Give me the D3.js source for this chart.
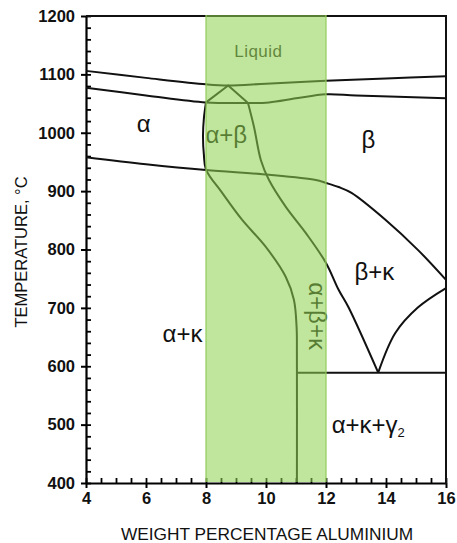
<!DOCTYPE html>
<html>
<head>
<meta charset="utf-8">
<script src="https://cdn.jsdelivr.net/npm/d3@7"></script>
<style>
  body { margin: 0; background: #fff; }
  svg { display: block; }
</style>
</head>
<body>
<svg id="chart"></svg>
<script>
let width = 457;
let height = 543;
let margin = { top: 16, right: 9, bottom: 60, left: 86 };

// phase boundaries, [wt% Al, temperature °C]
const liquidus = [[4, 1106], [6, 1094], [8, 1083], [8.74, 1081], [10, 1084], [12, 1089], [14, 1093], [16, 1097]];
const solidus = [[4, 1077], [6, 1064], [8, 1052], [9.4, 1051], [10.1, 1052], [11, 1059], [12, 1066], [13, 1064], [16, 1059]];
const peritectic = [[8, 1052], [8.74, 1081], [9.4, 1051]];
const alphaBoundary = [[8, 1052], [7.93, 1025], [7.9, 995], [7.93, 962], [8, 937], [8.54, 897], [9.2, 851], [10, 804], [10.66, 753], [10.93, 714], [11.02, 667], [11.03, 620], [11.03, 400]];
const betaBoundary = [[9.4, 1051], [9.6, 1010], [9.83, 953], [10.1, 919], [10.66, 873], [11.33, 828], [12, 777], [12.42, 731], [12.75, 701], [13.74, 589]];
const alphaBetaLower = [[4, 958], [6, 946], [8, 936], [10.1, 928], [11.66, 919], [12, 914], [12.42, 907], [12.85, 897], [13.98, 851], [15.07, 799], [16, 748]];
const kappaRight = [[16, 734], [15.07, 701], [14.31, 657], [13.74, 589]];
const eutectoid = [[11.03, 589], [16, 589]];

// highlighted composition band
const band = [8, 12];

// axis ticks
const xMajor = [4, 6, 8, 10, 12, 14, 16];
const xMinor = d3.range(4, 16.01, 0.5);
const yMajor = [400, 500, 600, 700, 800, 900, 1000, 1100, 1200];
const yMinor = d3.range(400, 1201, 20);

// region labels: text, wt% Al, temperature
const regionLabels = [
    ["α", 5.69, 1001],
    ["α+β", 7.98, 982],
    ["β", 13.18, 974],
    ["β+κ", 12.95, 748],
    ["α+κ", 6.55, 641],
];

let svg = d3.select("#chart")
    .attr("width", width)
    .attr("height", height)
    .style("font-family", "'Liberation Sans', Arial, sans-serif");

let x = d3.scaleLinear().domain([4, 16]).range([margin.left, width - margin.right - 2]);
let y = d3.scaleLinear().domain([400, 1200]).range([height - margin.bottom, margin.top]);

function styleLabels(g) {
    g.selectAll("text")
        .attr("font-size", 16.5)
        .attr("font-weight", "bold")
        .attr("font-family", "'Liberation Sans', Arial, sans-serif")
        .attr("fill", "#111");
}

// axes: labelled major ticks pointing out, minor ticks pointing in
svg.append("g")
    .attr("transform", `translate(${x(4)},0)`)
    .call(d3.axisRight(y).tickValues(yMinor).tickSize(5).tickSizeOuter(0).tickFormat(""))
    .call(g => g.selectAll("line").attr("stroke-width", 1.8));

svg.append("g")
    .attr("transform", `translate(${x(4)},0)`)
    .call(d3.axisLeft(y).tickValues(yMajor).tickSize(5).tickSizeOuter(0).tickPadding(6).tickFormat(d3.format("d")))
    .call(g => g.selectAll("line").attr("stroke-width", 2))
    .call(g => g.select(".domain").attr("stroke-width", 2.2))
    .call(styleLabels);

svg.append("g")
    .attr("transform", `translate(0,${y(400)})`)
    .call(d3.axisTop(x).tickValues(xMinor).tickSize(5).tickSizeOuter(0).tickFormat(""))
    .call(g => g.selectAll("line").attr("stroke-width", 1.8));

svg.append("g")
    .attr("transform", `translate(0,${y(400)})`)
    .call(d3.axisBottom(x).tickValues(xMajor).tickSize(5).tickSizeOuter(0).tickPadding(4).tickFormat(d3.format("d")))
    .call(g => g.selectAll("line").attr("stroke-width", 2))
    .call(g => g.select(".domain").attr("stroke-width", 2.2))
    .call(styleLabels);

// frame top and right
svg.append("path")
    .attr("d", `M${x(4)},${y(1200)}H${x(16)}V${y(400) + 1}`)
    .attr("fill", "none")
    .attr("stroke", "#111")
    .attr("stroke-width", 2);

// phase boundaries
let curve = d3.line()
    .x(d => x(d[0]))
    .y(d => y(d[1]))
    .curve(d3.curveCatmullRom.alpha(0.5));

let straight = d3.line()
    .x(d => x(d[0]))
    .y(d => y(d[1]));

let curves = [liquidus, solidus, alphaBoundary, betaBoundary, alphaBetaLower, kappaRight];
svg.append("g")
    .selectAll("path")
    .data(curves)
    .enter()
    .append("path")
    .attr("d", curve)
    .attr("fill", "none")
    .attr("stroke", "#111")
    .attr("stroke-width", 2)
    .attr("stroke-linejoin", "round");

svg.append("g")
    .selectAll("path")
    .data([peritectic, eutectoid])
    .enter()
    .append("path")
    .attr("d", straight)
    .attr("fill", "none")
    .attr("stroke", "#111")
    .attr("stroke-width", 2)
    .attr("stroke-linejoin", "round");

// region labels
svg.append("g")
    .selectAll("text")
    .data(regionLabels)
    .enter()
    .append("text")
    .attr("x", d => x(d[1]))
    .attr("y", d => y(d[2]))
    .attr("font-size", 24)
    .attr("fill", "#111")
    .text(d => d[0]);

svg.append("text")
    .attr("x", x(12.19))
    .attr("y", y(486))
    .attr("font-size", 24)
    .attr("fill", "#111")
    .text("α+κ+γ")
    .append("tspan")
    .attr("font-size", 13)
    .attr("dy", 4)
    .text("2");

svg.append("text")
    .attr("transform", `translate(${x(11.42)},${y(744)}) rotate(90)`)
    .attr("font-size", 24)
    .attr("fill", "#111")
    .text("α+β+κ");

svg.append("text")
    .attr("x", x(8.94))
    .attr("y", y(1130))
    .attr("font-size", 17)
    .attr("letter-spacing", 0.5)
    .attr("fill", "#2a2a2a")
    .text("Liquid");

// translucent green band laid over everything in it
svg.append("rect")
    .attr("x", x(band[0]))
    .attr("y", y(1200) - 1)
    .attr("width", x(band[1]) - x(band[0]))
    .attr("height", y(400) - y(1200))
    .attr("fill", "#8fd14f")
    .attr("opacity", 0.56);

svg.append("g")
    .selectAll("line")
    .data(band)
    .enter()
    .append("line")
    .attr("x1", d => x(d))
    .attr("x2", d => x(d))
    .attr("y1", y(1200) - 1)
    .attr("y2", y(400) - 1)
    .attr("stroke", "#92cc5c")
    .attr("stroke-width", 1.2);

// axis titles
svg.append("text")
    .attr("x", 267)
    .attr("y", 540)
    .attr("text-anchor", "middle")
    .attr("font-size", 17.3)
    .attr("fill", "#111")
    .text("WEIGHT PERCENTAGE ALUMINIUM");

svg.append("text")
    .attr("transform", `translate(27,252) rotate(-90)`)
    .attr("text-anchor", "middle")
    .attr("font-size", 16.5)
    .attr("fill", "#111")
    .text("TEMPERATURE, °C");
</script>
</body>
</html>
